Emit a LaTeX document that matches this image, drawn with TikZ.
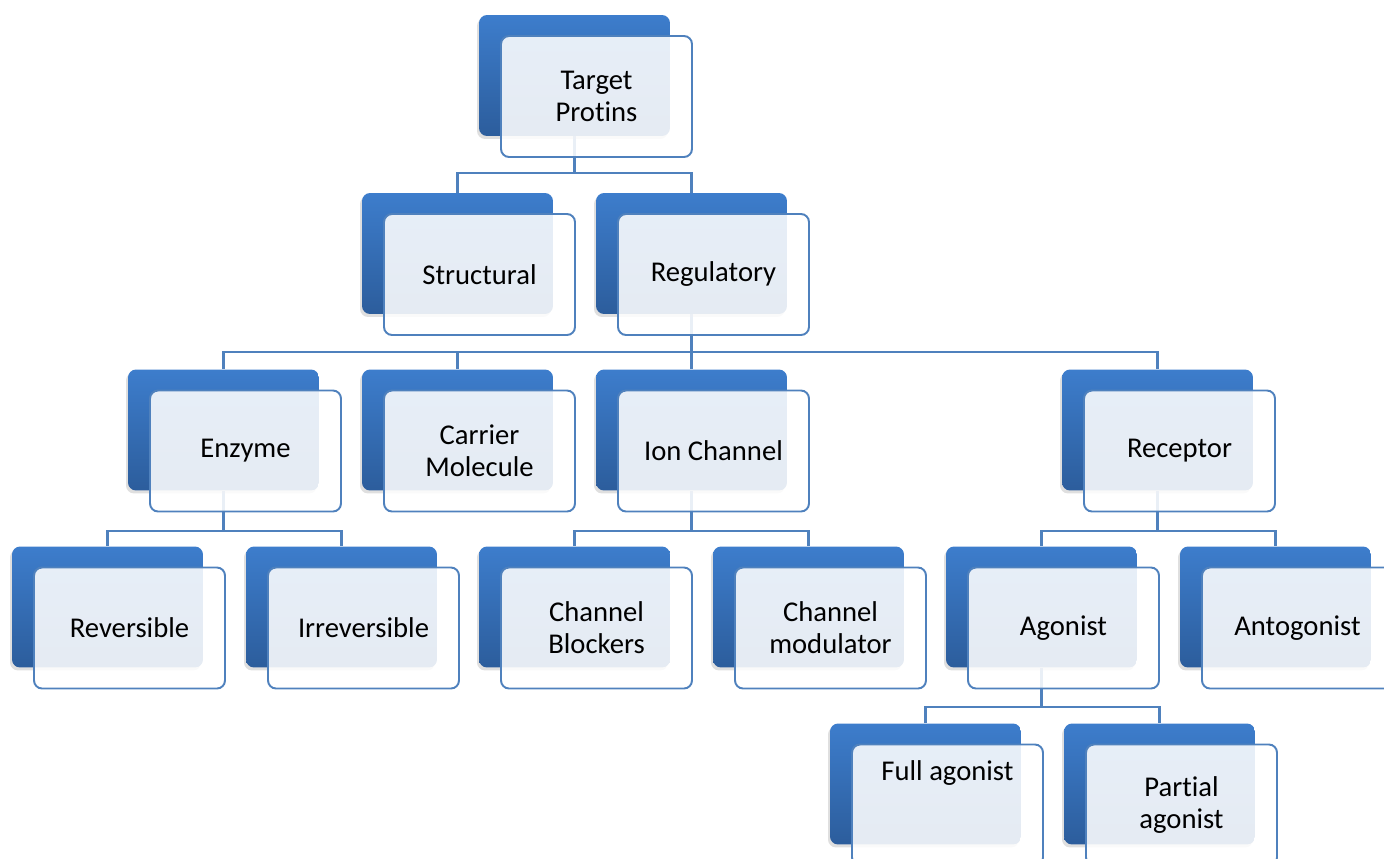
\documentclass[tikz,border=0pt]{standalone}
\usepackage{fontspec}
\setmainfont{Carlito}[Ligatures={NoCommon}]
\usetikzlibrary{calc,backgrounds,shadows}

\definecolor{tpblue}{RGB}{61,125,204}
\definecolor{tpdark}{RGB}{44,93,156}
\definecolor{tpline}{RGB}{79,129,189}

\begin{document}
\begin{tikzpicture}[x=0.02cm, y=-0.02cm,
    backbox/.style={rectangle, rounded corners=0.16cm, minimum width=3.82cm,
      minimum height=2.42cm, inner sep=0pt, top color=tpblue, bottom color=tpdark,
      drop shadow={shadow xshift=-0.04cm, shadow yshift=-0.06cm, opacity=0.25}},
    frontbox/.style={rectangle, rounded corners=0.16cm, minimum width=3.82cm,
      minimum height=2.42cm, inner sep=0pt, draw=tpline, line width=1.1pt,
      fill=white, fill opacity=0.88},
    boxtext/.style={align=center, font=\fontsize{16.3}{18.2}\selectfont, text=black},
    link/.style={draw=tpline, line width=1.2pt}]
    \useasboundingbox (0,0) rectangle (1384,859);
    \clip (0,0) rectangle (1384,859);

    % boxes: back card, front card, label
    \foreach \n/\x/\y/\dy/\t in {
        tgt/574.5/75.5/0/{Target\\Protins},
        struct/457.5/253.5/0/Structural,
        reg/691.5/253.5/0/Regulatory,
        enz/223.5/430/0/Enzyme,
        carrier/457.5/430/0/{Carrier\\Molecule},
        ion/691.5/430/0/Ion Channel,
        rec/1157.5/430/0/Receptor,
        rev/107.5/607/0/Reversible,
        irrev/341.5/607/0/Irreversible,
        block/574.5/607/0/{Channel\\Blockers},
        modul/808.5/607/0/{Channel\\modulator},
        ago/1041.5/607/0/Agonist,
        anta/1275.5/607/0/Antogonist,
        full/925.5/784/-32/Full agonist,
        part/1159.5/784/0/{Partial\\agonist}}{
        \node[backbox] (\n) at (\x,\y) {};
        \node[frontbox] (\n-f) at ($(\n)+(22,21)$) {};
        \node[boxtext] (\n-t) at ($(\n-f)+(0,\dy)$) {\t};
    }

    % tree lines
    \begin{scope}[on background layer]
        \foreach \c in {struct,reg}
            \draw[link] (tgt.south) -- ++(0,37) -| (\c.north);
        \foreach \c in {enz,carrier,ion,rec}
            \draw[link] (reg.south) -- ++(0,38) -| (\c.north);
        \foreach \c in {rev,irrev}
            \draw[link] (enz.south) -- ++(0,40) -| (\c.north);
        \foreach \c in {block,modul}
            \draw[link] (ion.south) -- ++(0,40) -| (\c.north);
        \foreach \c in {ago,anta}
            \draw[link] (rec.south) -- ++(0,40) -| (\c.north);
        \foreach \c in {full,part}
            \draw[link] (ago.south) -- ++(0,39) -| (\c.north);
    \end{scope}
\end{tikzpicture}
\end{document}
